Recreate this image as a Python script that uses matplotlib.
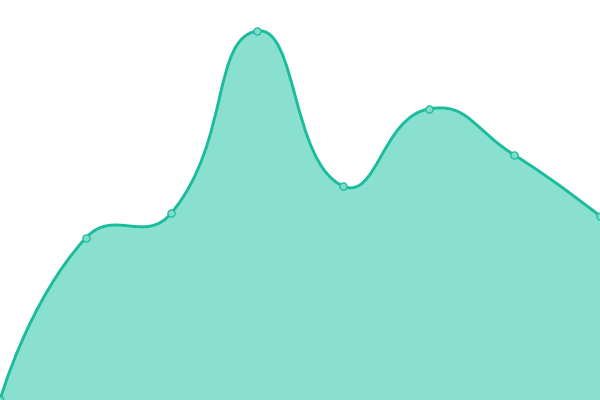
import numpy as np
import matplotlib
matplotlib.use("Agg")
import matplotlib.pyplot as plt
from matplotlib.path import Path
from matplotlib.patches import PathPatch

categories = ["A", "B", "C", "D", "E", "F", "G", "H"]
values = [0, 162, 187, 369, 214, 291, 245, 184]

LINE = "#1abc9c"
FILL = "#8ae0cf"

fig = plt.figure(figsize=(6, 4), dpi=100)
ax = fig.add_axes([0, 0, 1, 1])
ax.set_xlim(0, len(categories) - 1)
ax.set_ylim(0, 400)
ax.axis("off")

xs = np.arange(len(categories), dtype=float)
pts = ax.transData.transform(np.column_stack([xs, values]))

smooth = 0.5
n = len(pts)
verts = [pts[0]]
codes = [Path.MOVETO]
cp0 = pts[0].copy()
for i in range(1, n):
    cur = pts[i]
    if i < n - 1:
        prev = pts[i - 1]
        nxt = pts[i + 1]
        v = nxt - prev
        lp = np.hypot(*(cur - prev))
        ln = np.hypot(*(nxt - cur))
        r = ln / (ln + lp)
        cp1 = cur - v * smooth * (1 - r)
        ncp0 = cur + v * smooth * r
    else:
        cp1 = cur.copy()
        ncp0 = cur.copy()
    verts += [cp0, cp1, cur]
    codes += [Path.CURVE4] * 3
    cp0 = ncp0

inv = ax.transData.inverted()
verts_d = inv.transform(np.array(verts))
line_path = Path(verts_d, codes)

area_verts = list(verts_d) + [[xs[-1], 0], [xs[0], 0], verts_d[0]]
area_codes = codes + [Path.LINETO, Path.LINETO, Path.CLOSEPOLY]
ax.add_patch(PathPatch(Path(area_verts, area_codes), facecolor=FILL, edgecolor="none", zorder=1))
ax.add_patch(PathPatch(line_path, facecolor="none", edgecolor=LINE, lw=2.1, zorder=2, capstyle="round"))
ax.plot(xs, values, "o", ms=5.2, mfc="#7fdcc8", mec=LINE, mew=0.9, zorder=3, clip_on=False)

fig.savefig("out.png", dpi=100)
